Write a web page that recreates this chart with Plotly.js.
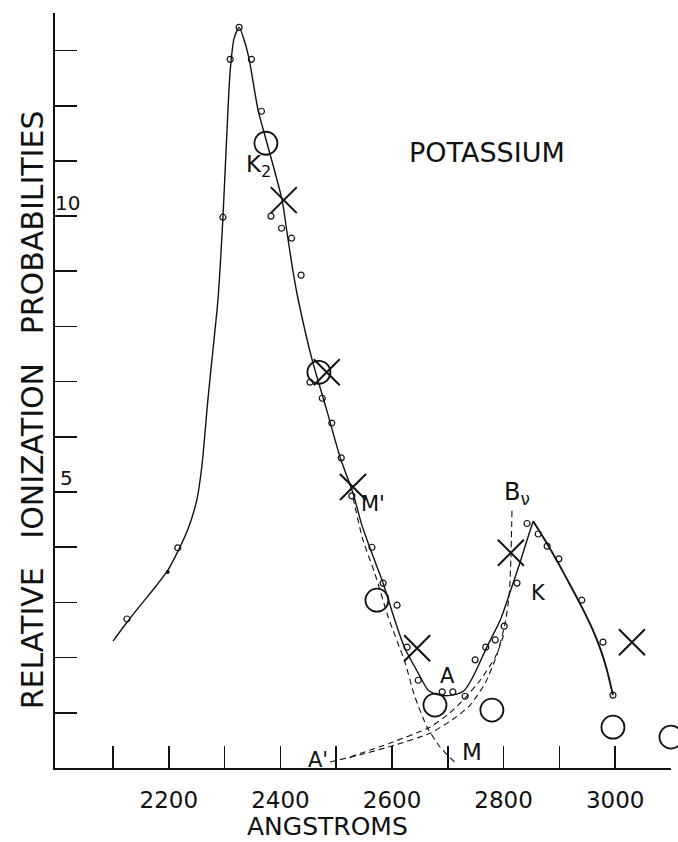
<!DOCTYPE html>
<html>
<head>
<meta charset="utf-8">
<script src="https://cdn.plot.ly/plotly-3.0.1.min.js"></script>
<style>html,body{margin:0;padding:0;background:#fff;}#chart{width:678px;height:842px;}</style>
</head>
<body>
<div id="chart"></div>
<script>
// Main fitted curve (solid) from 2100 A through K2 peak, M', A, to K peak
const curveX = [2100, 2125, 2150, 2175, 2198, 2216, 2234, 2250, 2259, 2270, 2279, 2288, 2297, 2304, 2310, 2317, 2326,
  2335, 2344, 2360, 2376, 2403, 2412, 2423, 2432, 2457, 2482, 2507, 2530, 2546, 2564, 2584, 2605, 2623, 2647,
  2665, 2686, 2707, 2729, 2745, 2770, 2794, 2811, 2829, 2842, 2853];
const curveY = [2.30, 2.64, 2.96, 3.27, 3.58, 3.92, 4.32, 4.85, 5.45, 6.67, 7.57, 8.48, 9.98, 11.50, 12.64, 13.22, 13.42,
  13.19, 12.84, 11.92, 11.32, 10.29, 9.69, 8.97, 8.48, 7.39, 6.52, 5.63, 4.98, 4.40, 3.89, 3.35, 2.68, 2.17, 1.72,
  1.41, 1.32, 1.32, 1.40, 1.65, 2.19, 2.68, 3.17, 3.71, 4.13, 4.47];
// Descending branch after K peak
const tailX = [2853, 2874, 2897, 2919, 2940, 2960, 2974, 2985, 2996];
const tailY = [4.47, 4.13, 3.73, 3.32, 2.92, 2.50, 2.14, 1.78, 1.32];
// Dashed extrapolation M' -> M
const dashMX = [2530, 2548, 2569, 2593, 2623, 2641, 2663, 2686, 2716];
const dashMY = [4.90, 4.13, 3.53, 2.74, 1.92, 1.29, 0.74, 0.38, 0.07];
// Dashed extrapolation A' -> B_nu
const dashBX = [2489, 2543, 2600, 2668, 2713, 2740, 2767, 2788, 2802, 2810, 2813, 2815];
const dashBY = [0.11, 0.24, 0.40, 0.63, 0.91, 1.14, 1.54, 2.05, 2.59, 3.13, 3.77, 4.67];
// Second dashed curve (parallel) rising toward K
const dashKX = [2525, 2596, 2668, 2704, 2731, 2758, 2785, 2800];
const dashKY = [0.20, 0.45, 0.74, 1.00, 1.27, 1.59, 2.01, 2.40];
// Small open circles (measured points)
const smallX = [2125, 2216, 2297, 2310, 2326, 2348, 2366, 2383, 2402, 2420, 2437, 2453, 2475, 2492, 2509, 2528,
  2564, 2584, 2609, 2627, 2647, 2690, 2709, 2731, 2749, 2768, 2785, 2801, 2824, 2842, 2862, 2878, 2899, 2940, 2978, 2996];
const smallY = [2.70, 3.99, 9.98, 12.84, 13.42, 12.84, 11.90, 10.00, 9.78, 9.60, 8.93, 6.99, 6.70, 6.25, 5.62, 4.93,
  4.00, 3.35, 2.95, 2.19, 1.59, 1.38, 1.38, 1.30, 1.96, 2.19, 2.32, 2.57, 3.35, 4.43, 4.24, 4.02, 3.79, 3.04, 2.28, 1.32];
// Small filled dot
const dotX = [2198];
const dotY = [3.55];
// Large open circles
const bigX = [2374, 2469, 2573, 2677, 2779, 2996, 3100];
const bigY = [11.32, 7.17, 3.04, 1.14, 1.05, 0.74, 0.56];
// Crosses
const crossX = [2406, 2483, 2530, 2645, 2813, 3030];
const crossY = [10.29, 7.17, 5.09, 2.17, 3.90, 2.28];
// Axis ticks
const xTickVals = [2200, 2400, 2600, 2800, 3000];
const xTickText = ['2200', '2400', '2600', '2800', '3000'];
const xMinorVals = [2100, 2300, 2500, 2700, 2900, 3100];
const yTickVals = [1, 2, 3, 4, 5, 6, 7, 8, 9, 10, 11, 12, 13];

const FONT = 'DejaVu Sans';
const black = '#111';

const traces = [
  {x: curveX, y: curveY, mode: 'lines', line: {color: black, width: 1.4, shape: 'spline', smoothing: 0.7}, hoverinfo: 'skip'},
  {x: tailX, y: tailY, mode: 'lines', line: {color: black, width: 1.9, shape: 'spline', smoothing: 0.6}, hoverinfo: 'skip'},
  {x: dashMX, y: dashMY, mode: 'lines', line: {color: black, width: 1.1, dash: '6px,4px', shape: 'spline', smoothing: 0.6}},
  {x: dashBX, y: dashBY, mode: 'lines', line: {color: black, width: 1.1, dash: '6px,4px', shape: 'spline', smoothing: 0.6}},
  {x: dashKX, y: dashKY, mode: 'lines', line: {color: black, width: 1.1, dash: '6px,4px', shape: 'spline', smoothing: 0.6}},
  {x: smallX, y: smallY, mode: 'markers', marker: {symbol: 'circle-open', size: 6, color: black, line: {width: 1.2}}},
  {x: dotX, y: dotY, mode: 'markers', marker: {symbol: 'circle', size: 4, color: black}},
  {x: bigX, y: bigY, mode: 'markers', cliponaxis: false, marker: {symbol: 'circle-open', size: 23, color: black, line: {width: 1.8}}},
  {x: crossX, y: crossY, mode: 'markers', cliponaxis: false, marker: {symbol: 'x-thin-open', size: 26, color: black, line: {width: 2}}}
];

function lab(text, x, y, size, extra) {
  return Object.assign({text: text, x: x, y: y, xref: 'x', yref: 'y', showarrow: false,
    xanchor: 'center', yanchor: 'middle', font: {family: FONT, size: size, color: black}}, extra || {});
}

const annotations = [
  lab('POTASSIUM', 2770, 11.16, 27),
  lab('K<sub>2</sub>', 2360, 10.90, 23),
  lab("M'", 2566, 4.78, 21),
  lab('A', 2700, 1.67, 21),
  lab('B<sub>ν</sub>', 2824, 4.98, 24),
  lab('K', 2862, 3.17, 21),
  lab('M', 2743, 0.29, 23),
  lab("A'", 2467, 0.15, 21),
  lab('10', 2019, 10.24, 20),
  lab('5', 2016, 5.25, 20),
  {text: 'RELATIVE\u00a0\u00a0\u00a0IONIZATION\u00a0\u00a0\u00a0PROBABILITIES', xref: 'paper', yref: 'paper',
   x: -0.037, y: 0.474, xanchor: 'center', yanchor: 'middle', textangle: -90, showarrow: false,
   font: {family: FONT, size: 30, color: black}},
  {text: 'ANGSTROMS', xref: 'x', yref: 'paper', x: 2485, y: -0.078, xanchor: 'center', yanchor: 'middle',
   showarrow: false, font: {family: FONT, size: 25, color: black}}
];

const layout = {
  width: 678, height: 842,
  margin: {l: 55, r: 7, t: 13, b: 74, pad: 0},
  paper_bgcolor: '#fff', plot_bgcolor: '#fff',
  showlegend: false,
  font: {family: FONT, color: black},
  xaxis: {
    range: [1996, 3100], showgrid: false, zeroline: false,
    showline: true, linecolor: black, linewidth: 2,
    ticks: 'inside', ticklen: 22, tickwidth: 1.6, tickcolor: black,
    tickmode: 'array', tickvals: xTickVals, ticktext: xTickText,
    tickfont: {family: FONT, size: 23, color: black}, ticklabelstandoff: 10,
    minor: {tickmode: 'array', tickvals: xMinorVals, ticks: 'inside', ticklen: 22, tickwidth: 1.6, tickcolor: black, showgrid: false}
  },
  yaxis: {
    range: [0, 13.68], showgrid: false, zeroline: false,
    showline: true, linecolor: black, linewidth: 2,
    ticks: 'inside', ticklen: 22, tickwidth: 1.6, tickcolor: black,
    tickmode: 'array', tickvals: yTickVals, showticklabels: false
  },
  annotations: annotations
};

Plotly.newPlot('chart', traces, layout, {staticPlot: true, displayModeBar: false});
</script>
</body>
</html>
